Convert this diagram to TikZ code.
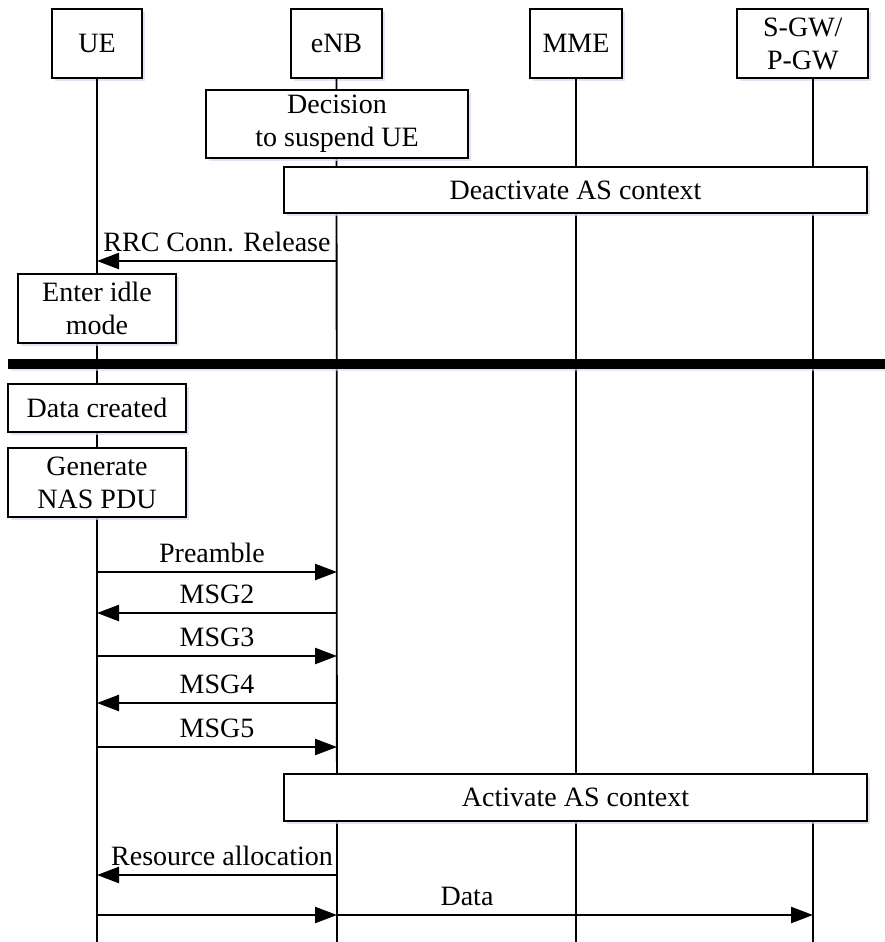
\documentclass[tikz,border=0pt]{standalone}
\usepackage{fontspec}
\setmainfont{Liberation Serif}
\usetikzlibrary{arrows.meta,shadows}
\definecolor{shadowblue}{RGB}{208,220,240}
\begin{document}
\begin{tikzpicture}[x=1pt,y=-1pt,
  font=\fontsize{28}{33}\selectfont,
  every node/.style={inner sep=0pt},
  softshadow/.style={drop shadow={shadow xshift=3pt,shadow yshift=-3pt,fill=shadowblue,opacity=0.7}},
  box/.style={draw,line width=1.8pt,fill=white,align=center,softshadow},
  life/.style={line width=1.8pt},
  msg/.style={line width=2.4pt,-{Triangle[length=22pt,width=16pt]}},
  lbl/.style={anchor=base}]
\useasboundingbox (0,0) rectangle (885,942);

% lifeline positions
\coordinate (xue)  at (97,0);
\coordinate (xenb) at (337,0);
\coordinate (xmme) at (576,0);
\coordinate (xsgw) at (813,0);

% entity headers
\node[box,minimum width=90pt,minimum height=69pt]  (ue)  at (97,43.5)   {UE};
\node[box,minimum width=91pt,minimum height=69pt]  (enb) at (336.5,43.5) {eNB};
\node[box,minimum width=92pt,minimum height=69pt]  (mme) at (576,43.5)  {MME};
\node[box,minimum width=131pt,minimum height=69pt] (sgw) at (802.8,43.5) {S-GW/\\P-GW};

% lifelines
\draw[life] (ue.south)  -- (xue |- 0,942);
\draw[life] (enb.south) -- (xenb |- 0,942);
\draw[life] (mme.south) -- (xmme |- 0,942);
\draw[life] (xsgw |- sgw.south) -- (xsgw |- 0,942);

% suspension
\node[box,minimum width=262pt,minimum height=68pt] (decide) at (337,124) {Decision\\to suspend UE};
\node[box,minimum width=583pt,minimum height=46.5pt] (deact) at (575.5,190) {Deactivate AS context};

\draw[msg] (xenb |- 0,261) -- (xue |- 0,261);
\node[lbl] (rrcl) at (217,251) {RRC Conn. Release};

\node[box,minimum width=158pt,minimum height=69pt] (idle) at (97,308.5) {Enter idle\\mode};

% separator bar
\draw[line width=6pt,shadowblue,opacity=0.6] (11,368) -- (885,368);
\draw[line width=10pt] (8,364) -- (885,364);

% resume
\node[box,minimum width=178pt,minimum height=48pt] (created) at (97,408) {Data created};
\node[box,minimum width=178pt,minimum height=69pt] (nas) at (97,482.5) {Generate\\NAS PDU};

\draw[msg] (xue |- 0,572) -- (xenb |- 0,572);
\node[lbl] (pre) at (212,562) {Preamble};
\draw[msg] (xenb |- 0,613) -- (xue |- 0,613);
\node[lbl] (m2) at (217,603) {MSG2};
\draw[msg] (xue |- 0,656) -- (xenb |- 0,656);
\node[lbl] (m3) at (217,646) {MSG3};
\draw[msg] (xenb |- 0,703) -- (xue |- 0,703);
\node[lbl] (m4) at (217,693) {MSG4};
\draw[msg] (xue |- 0,747) -- (xenb |- 0,747);
\node[lbl] (m5) at (217,737) {MSG5};

\node[box,minimum width=583pt,minimum height=47pt] (act) at (575.5,797.5) {Activate AS context};

\draw[msg] (xenb |- 0,875) -- (xue |- 0,875);
\node[lbl] (res) at (222,865) {Resource allocation};

\draw[msg] (xue |- 0,915) -- (xenb |- 0,915);
\draw[msg] (xenb |- 0,915) -- (xsgw |- 0,915);
\node[lbl] (data) at (467,905) {Data};
\end{tikzpicture}
\end{document}
